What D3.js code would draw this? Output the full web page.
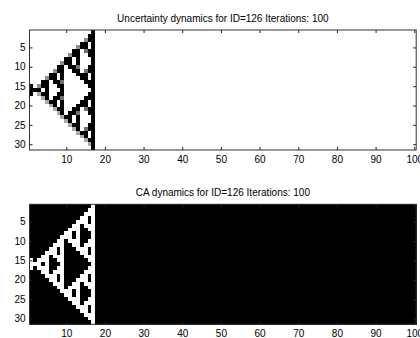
<!DOCTYPE html>
<html>
<head>
<meta charset="utf-8">
<script src="https://cdn.jsdelivr.net/npm/d3@7"></script>
<style>
  body { margin: 0; background: #fff; }
  text { font-family: "Liberation Sans", Arial, sans-serif; }
</style>
</head>
<body>
<div id="chart"></div>
<script>
const ruleId = 126;
const iterations = 100;
const colTicks = [10, 20, 30, 40, 50, 60, 70, 80, 90, 100];
const rowTicks = [5, 10, 15, 20, 25, 30];

// columns 18..100 are the same in every row (all 0)
const idleTail = "0000000000" + "0000000000" + "0000000000" + "0000000000" +
                 "0000000000" + "0000000000" + "0000000000" + "0000000000" + "000";

// CA states, columns 1..17 (1 = on / white)
const caRows = [
  "00000000000000001",
  "00000000000000011",
  "00000000000000111",
  "00000000000001101",
  "00000000000011101",
  "00000000000110111",
  "00000000001110011",
  "00000000011010001",
  "00000000111010001",
  "00000001101110011",
  "00000011100110111",
  "00000110100011101",
  "00001110100001101",
  "00011011100000111",
  "10111001100000011",
  "11101000100000001",
  "10111001100000011",
  "00011011100000111",
  "00001110100001101",
  "00000110100011101",
  "00000011100110111",
  "00000001101110011",
  "00000000111010001",
  "00000000011010001",
  "00000000001110011",
  "00000000000110111",
  "00000000000011101",
  "00000000000001101",
  "00000000000000111",
  "00000000000000011",
  "00000000000000001"
];

// uncertainty, columns 1..17 (0 = none / white .. 9 = full / black)
const uncRows = [
  "00000000000000009",
  "00000000000000099",
  "00000000000000499",
  "00000000000009909",
  "00000000000049909",
  "00000000000990599",
  "00000000004990099",
  "00000000099090009",
  "00000000499090009",
  "00000009909950099",
  "00000049900990599",
  "00000990900099909",
  "00004990900009909",
  "00099099500000999",
  "90499009900000099",
  "99909000900000009",
  "90399009900000099",
  "00039099500000999",
  "00003990900009909",
  "00000390900099909",
  "00000039900990599",
  "00000003909950099",
  "00000000399090009",
  "00000000039090009",
  "00000000003990099",
  "00000000000390599",
  "00000000000039909",
  "00000000000003909",
  "00000000000000399",
  "00000000000000039",
  "00000000000000009"
];

const W = 420, H = 338;
const margin = { left: 29.5, right: 3.8 };
const plotH = 120;

const svg = d3.select("#chart").append("svg")
  .attr("width", W)
  .attr("height", H);

const toGrid = rows => rows.map(s => (s + idleTail).split("").map(Number));

const grey = d3.scaleLinear().domain([0, 9]).range(["#ffffff", "#000000"]);

const panels = [
  {
    title: `Uncertainty dynamics for ID=${ruleId} Iterations: ${iterations}`,
    grid: toGrid(uncRows),
    top: 30,
    fill: v => grey(v)
  },
  {
    title: `CA dynamics for ID=${ruleId} Iterations: ${iterations}`,
    grid: toGrid(caRows),
    top: 204.3,
    fill: v => (v ? "#ffffff" : "#000000")
  }
];

panels.forEach(p => {
  const nRows = p.grid.length;
  const nCols = p.grid[0].length;

  const x = d3.scaleLinear()
    .domain([0.5, nCols + 0.5])
    .range([margin.left, W - margin.right]);
  const y = d3.scaleLinear()
    .domain([0.5, nRows + 0.5])
    .range([p.top, p.top + plotH]);

  const g = svg.append("g");

  // cells
  const cells = [];
  p.grid.forEach((row, i) => row.forEach((v, j) => cells.push({ r: i + 1, c: j + 1, v })));
  g.append("g")
    .attr("shape-rendering", "crispEdges")
    .selectAll("rect")
    .data(cells)
    .join("rect")
    .attr("x", d => x(d.c - 0.5))
    .attr("y", d => y(d.r - 0.5))
    .attr("width", d => x(d.c + 0.5) - x(d.c - 0.5) + 0.3)
    .attr("height", d => y(d.r + 0.5) - y(d.r - 0.5) + 0.3)
    .attr("fill", d => p.fill(d.v));

  const tickLen = 3;
  const styleAxis = sel => {
    sel.select(".domain").remove();
    sel.selectAll(".tick line").attr("stroke", "#222");
    sel.selectAll(".tick text")
      .attr("fill", "#000")
      .style("font-size", "10px")
      .style("font-family", "'Liberation Sans', Arial, sans-serif");
  };

  // bottom axis with labels
  g.append("g")
    .attr("transform", `translate(0,${p.top + plotH})`)
    .call(d3.axisBottom(x).tickValues(colTicks).tickSize(-tickLen).tickPadding(6))
    .call(styleAxis);
  // top ticks
  g.append("g")
    .attr("transform", `translate(0,${p.top})`)
    .call(d3.axisTop(x).tickValues(colTicks).tickSize(-tickLen).tickFormat(""))
    .call(styleAxis);
  // left axis with labels
  g.append("g")
    .attr("transform", `translate(${margin.left},0)`)
    .call(d3.axisLeft(y).tickValues(rowTicks).tickSize(-tickLen).tickPadding(4))
    .call(styleAxis);
  // right ticks
  g.append("g")
    .attr("transform", `translate(${W - margin.right},0)`)
    .call(d3.axisRight(y).tickValues(rowTicks).tickSize(-tickLen).tickFormat(""))
    .call(styleAxis);

  // box
  g.append("rect")
    .attr("x", margin.left)
    .attr("y", p.top)
    .attr("width", W - margin.right - margin.left)
    .attr("height", plotH)
    .attr("fill", "none")
    .attr("stroke", "#333")
    .attr("stroke-width", 1);

  // title
  g.append("text")
    .attr("x", (margin.left + W - margin.right) / 2)
    .attr("y", p.top - 8)
    .attr("text-anchor", "middle")
    .style("font-size", "10px")
    .text(p.title);
});
</script>
</body>
</html>
